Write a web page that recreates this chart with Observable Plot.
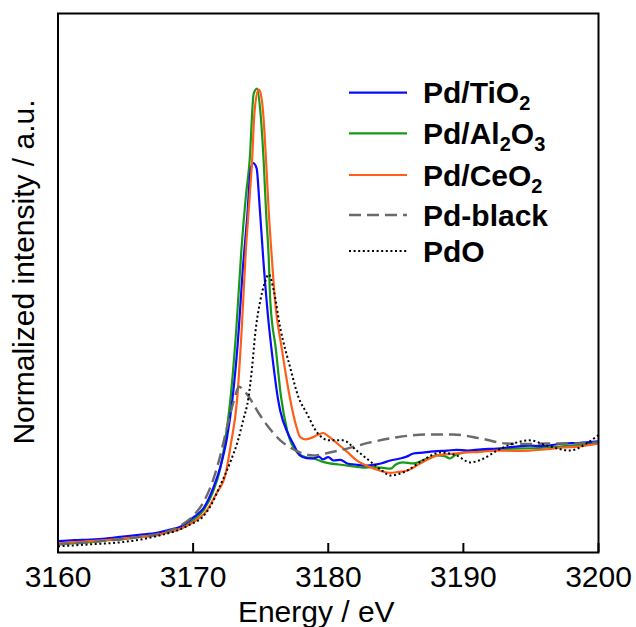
<!DOCTYPE html>
<html><head><meta charset="utf-8">
<script src="https://cdn.jsdelivr.net/npm/d3@7"></script>
<script src="https://cdn.jsdelivr.net/npm/@observablehq/plot@0.6"></script>
<style>
body{margin:0;background:#fff;font-family:"Liberation Sans",Arial,sans-serif}
#chart{position:relative;width:636px;height:627px}
</style>
</head><body><div id="chart"></div>
<script>
// ---- data (energy in eV, normalized intensity) ----
const xTicks = [3160, 3170, 3180, 3190, 3200];
const seriesNames = ["Pd/TiO2", "Pd/Al2O3", "Pd/CeO2", "Pd-black", "PdO"];
const seriesColors = ["#0a0aff", "#169a16", "#ff5e18", "#6a6a6a", "#000000"];

const tiE = [3160,3161.2,3162.4,3163.5,3164.8,3166.0,3167.4,3168.3,3169.1,3170.0,3170.8,3171.5,3172.0,3172.5,3172.9,3173.3,3173.7,3174.0,3174.25,3174.45,3174.7,3174.9,3175.2,3175.55,3175.9,3176.3,3176.45,3177.0,3177.4,3177.9,3178.4,3178.9,3179.3,3179.6,3180.0,3180.4,3180.9,3181.4,3182.0,3182.6,3183.2,3183.9,3184.6,3185.3,3185.8,3186.3,3187.0,3187.8,3188.8,3189.5,3190.3,3191.3,3192.5,3193.5,3194.9,3195.8,3197.4,3198.5,3200];
const tiI = [0.07,0.08,0.086,0.095,0.114,0.13,0.152,0.18,0.21,0.295,0.39,0.58,0.77,1.05,1.41,1.95,2.7,3.15,3.6,3.67,3.62,3.3,2.74,2.2,1.79,1.41,1.31,1.1,1.0,0.886,0.86,0.857,0.875,0.85,0.87,0.838,0.845,0.81,0.80,0.79,0.795,0.81,0.838,0.857,0.875,0.905,0.914,0.925,0.933,0.94,0.933,0.945,0.952,0.965,0.98,0.975,1.0,1.005,1.02];

const alE = [3160,3161.2,3162.4,3163.5,3164.8,3166.0,3167.4,3168.3,3169.1,3170.0,3170.8,3171.5,3172.0,3172.4,3172.75,3173.2,3173.57,3173.9,3174.18,3174.48,3174.73,3174.97,3175.22,3175.4,3175.59,3175.71,3176.13,3176.5,3176.97,3177.7,3178.3,3178.9,3179.5,3180.1,3180.8,3181.4,3182.0,3182.6,3183.3,3183.9,3184.6,3185.0,3185.5,3186.3,3187.0,3187.5,3188.05,3188.6,3189.0,3189.4,3190.0,3191.2,3192.5,3193.7,3195.0,3196.2,3197.5,3198.8,3200];
const alI = [0.04,0.05,0.06,0.075,0.09,0.11,0.13,0.16,0.19,0.27,0.37,0.55,0.76,1.05,1.41,2.1,2.84,3.35,3.69,4.33,4.38,4.17,3.69,3.2,2.78,2.36,1.89,1.45,1.12,0.914,0.87,0.857,0.83,0.81,0.80,0.79,0.78,0.77,0.775,0.77,0.76,0.80,0.82,0.81,0.84,0.865,0.886,0.88,0.857,0.89,0.914,0.933,0.94,0.952,0.955,0.962,0.975,0.99,1.01];

const ceE = [3160,3161.2,3162.4,3163.5,3164.8,3166.0,3167.4,3168.3,3169.1,3170.0,3171.0,3171.7,3172.4,3172.8,3173.25,3173.6,3173.9,3174.1,3174.36,3174.55,3174.85,3175.0,3175.17,3175.4,3175.6,3175.84,3176.06,3176.58,3177.2,3177.6,3177.93,3178.3,3178.67,3179.2,3179.63,3180.0,3180.67,3181.4,3182.1,3183.0,3183.85,3184.6,3185.2,3185.8,3186.8,3187.4,3188.05,3189.0,3190.0,3191.2,3192.5,3193.7,3194.9,3196.2,3197.4,3198.5,3200];
const ceI = [0.05,0.06,0.07,0.08,0.095,0.11,0.13,0.16,0.19,0.25,0.36,0.52,0.71,1.0,1.41,2.1,2.84,3.2,3.69,4.17,4.37,4.33,4.17,3.69,3.2,2.74,2.36,1.89,1.41,1.18,1.06,1.04,1.05,1.08,1.10,1.07,1.0,0.92,0.84,0.78,0.74,0.72,0.73,0.74,0.81,0.85,0.886,0.9,0.914,0.92,0.933,0.93,0.933,0.945,0.962,0.97,1.0];

const blackE = [3160,3161.2,3162.4,3163.5,3164.8,3166.0,3167.4,3168.3,3169.1,3170.0,3170.8,3171.5,3172.0,3172.5,3173.0,3173.4,3173.8,3174.2,3174.8,3175.5,3176.45,3177.2,3177.93,3178.9,3180.1,3181.4,3183.1,3185.1,3187.5,3189.25,3191.2,3193.2,3194.7,3196.2,3198.0,3200];
const blackI = [0.04,0.05,0.06,0.075,0.09,0.11,0.14,0.17,0.22,0.31,0.45,0.66,0.88,1.15,1.40,1.54,1.50,1.43,1.30,1.17,1.03,0.96,0.914,0.886,0.914,0.952,1.01,1.06,1.086,1.086,1.05,1.0,0.995,1.0,1.0,1.01];

const pdoE = [3160,3161.2,3162.4,3164.7,3166.3,3167.7,3168.8,3169.8,3170.7,3171.4,3171.9,3172.8,3173.3,3173.7,3174.1,3174.36,3174.6,3174.97,3175.3,3175.6,3175.96,3176.45,3177.19,3177.8,3178.4,3179.2,3180.1,3181.1,3182.1,3183.3,3184.0,3184.6,3185.8,3187.0,3188.3,3189.5,3190.5,3191.5,3192.5,3193.7,3194.9,3196.2,3197.9,3199.1,3200];
const pdoI = [0.02,0.03,0.04,0.06,0.09,0.13,0.17,0.23,0.30,0.43,0.57,0.84,1.02,1.22,1.44,1.72,2.05,2.36,2.53,2.61,2.46,2.1,1.72,1.44,1.29,1.10,1.03,1.03,0.933,0.81,0.74,0.695,0.74,0.84,0.914,0.886,0.82,0.857,0.933,1.0,1.03,0.98,0.933,1.0,1.08];

const energies = [tiE, alE, ceE, blackE, pdoE];
const intensities = [tiI, alI, ceI, blackI, pdoI];

const rows = seriesNames.map((name, s) => energies[s].map((e, i) => ({series: name, energy: e, intensity: intensities[s][i]})));

const lineOpts = [
  {stroke: seriesColors[0], strokeWidth: 2.2},
  {stroke: seriesColors[1], strokeWidth: 2.2},
  {stroke: seriesColors[2], strokeWidth: 2.2},
  {stroke: seriesColors[3], strokeWidth: 2.4, strokeDasharray: "12,6"},
  {stroke: seriesColors[4], strokeWidth: 2, strokeDasharray: "2,2.6"}
];
const drawOrder = [1, 0, 2, 3, 4];

const plot = Plot.plot({
  width: 636,
  height: 627,
  marginLeft: 57.5,
  marginRight: 38,
  marginTop: 13,
  marginBottom: 75,
  style: {fontFamily: "'Liberation Sans', Arial, sans-serif", fontSize: "30px", color: "#000", background: "#fff"},
  x: {domain: [3160, 3200]},
  y: {domain: [-0.038, 5.095], axis: null},
  marks: [
    ...drawOrder.map(s => Plot.line(rows[s], {x: "energy", y: "intensity", ...lineOpts[s], curve: "monotone-x", strokeLinejoin: "round", strokeLinecap: "butt"})),
    Plot.frame({stroke: "#000", strokeWidth: 2}),
    Plot.axisX({ticks: xTicks, tickSize: -9, tickPadding: 22, strokeWidth: 2, tickFormat: d3.format("d"), label: null, fontSize: 30}),
    Plot.text(["Energy / eV"], {frameAnchor: "bottom", dx: -12, dy: 48, lineAnchor: "top", fontSize: 30, fill: "#000"}),
    Plot.text(["Normalized intensity / a.u."], {frameAnchor: "left", rotate: -90, dx: -24.5, dy: -11, lineAnchor: "bottom", textAnchor: "middle", fontSize: 30, fill: "#000"})
  ]
});
document.getElementById("chart").appendChild(plot);

// ---- legend (inside plot, top right) ----
const svg = d3.select(plot);
const legendY = [92.7, 133.3, 175, 215, 251];
const legendParts = [
  [["Pd/TiO", false], ["2", true]],
  [["Pd/Al", false], ["2", true], ["O", false], ["3", true]],
  [["Pd/CeO", false], ["2", true]],
  [["Pd-black", false]],
  [["PdO", false]]
];
const lg = svg.append("g").attr("class", "legend");
seriesNames.forEach((name, s) => {
  const y = legendY[s];
  lg.append("line").attr("x1", 349).attr("x2", 407).attr("y1", y).attr("y2", y)
    .attr("stroke", seriesColors[s]).attr("stroke-width", lineOpts[s].strokeWidth)
    .attr("stroke-linecap", "butt")
    .attr("stroke-dasharray", lineOpts[s].strokeDasharray || null);
  const t = lg.append("text").attr("x", 423).attr("y", y + 10.5)
    .attr("text-anchor", "start")
    .attr("font-family", "'Liberation Sans', Arial, sans-serif").attr("font-weight", "bold")
    .attr("font-size", 30).attr("fill", "#000");
  let sub = false;
  legendParts[s].forEach(([txt, isSub]) => {
    const ts = t.append("tspan").text(txt);
    if (isSub && !sub) { ts.attr("dy", 7).attr("font-size", 20); sub = true; }
    else if (isSub) { ts.attr("font-size", 20); }
    else if (!isSub && sub) { ts.attr("dy", -7); sub = false; }
  });
});
</script>
</body></html>
